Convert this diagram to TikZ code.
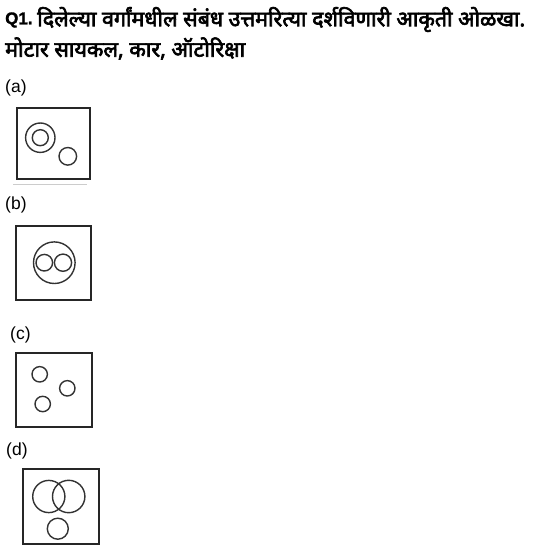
\documentclass[tikz,border=0pt]{standalone}
\usepackage{fontspec}
\setmainfont{Liberation Sans}
\newfontfamily\qfont[FakeBold=1.5]{Liberation Sans Bold}
\newfontfamily\deva[Script=Devanagari,FakeBold=3]{Noto Sans}
\begin{document}
\begin{tikzpicture}[x=1pt,y=-1pt,
  box/.style={draw=black!85, line width=1.8pt},
  circ/.style={draw=black!80, line width=1.4pt},
  lbl/.style={anchor=west, inner sep=0pt, font=\fontsize{17.5}{20}\selectfont},
  ttl/.style={anchor=west, inner sep=0pt, font=\fontsize{17}{20}\qfont},
  dtx/.style={anchor=west, inner sep=0pt, font=\fontsize{19}{22}\deva}]
\useasboundingbox (0,0) rectangle (544,549);
\fill[white] (0,0) rectangle (544,549);
% title
\node[ttl] (q1) at (5,20) {Q1.};
\node[dtx] (t1) at (37,19.5) {\resizebox{488pt}{!}{\deva दिलेल्या वर्गांमधील संबंध उत्तमरित्या दर्शविणारी आकृती ओळखा.}};
\node[dtx] (t2) at (5,48.5) {\resizebox{240pt}{!}{\deva मोटार सायकल, कार, ऑटोरिक्षा}};
% (a)
\node[lbl] (la) at (5,87.5) {(a)};
\draw[box] (17.3,107.7) rectangle (90,179);
\draw[circ] (40.3,137.7) circle (14.7);
\draw[circ] (40.3,137.7) circle (8);
\draw[circ] (67.8,156.3) circle (8.8);
\draw[draw=black!20, line width=1pt] (13,184) -- (87,184);
% (b)
\node[lbl] (lb) at (5,204.5) {(b)};
\draw[box] (16,226) rectangle (91,300);
\draw[circ] (54.3,262.7) circle (20.8);
\draw[circ] (44.3,262.7) circle (8.3);
\draw[circ] (63,262.7) circle (8.6);
% (c)
\node[lbl] (lc) at (10,334.5) {(c)};
\draw[box] (16,353.3) rectangle (91.7,427.3);
\draw[circ] (39.7,374.3) circle (7.7);
\draw[circ] (67.3,388.3) circle (7.7);
\draw[circ] (42.7,404) circle (7.7);
% (d)
\node[lbl] (ld) at (6,450.5) {(d)};
\draw[box] (22.7,469) rectangle (99,544.3);
\draw[circ] (48.8,496.5) circle (16.1);
\draw[circ] (68.7,496.5) circle (16.2);
\draw[circ] (57.8,528.7) circle (10.5);
\end{tikzpicture}
\end{document}
